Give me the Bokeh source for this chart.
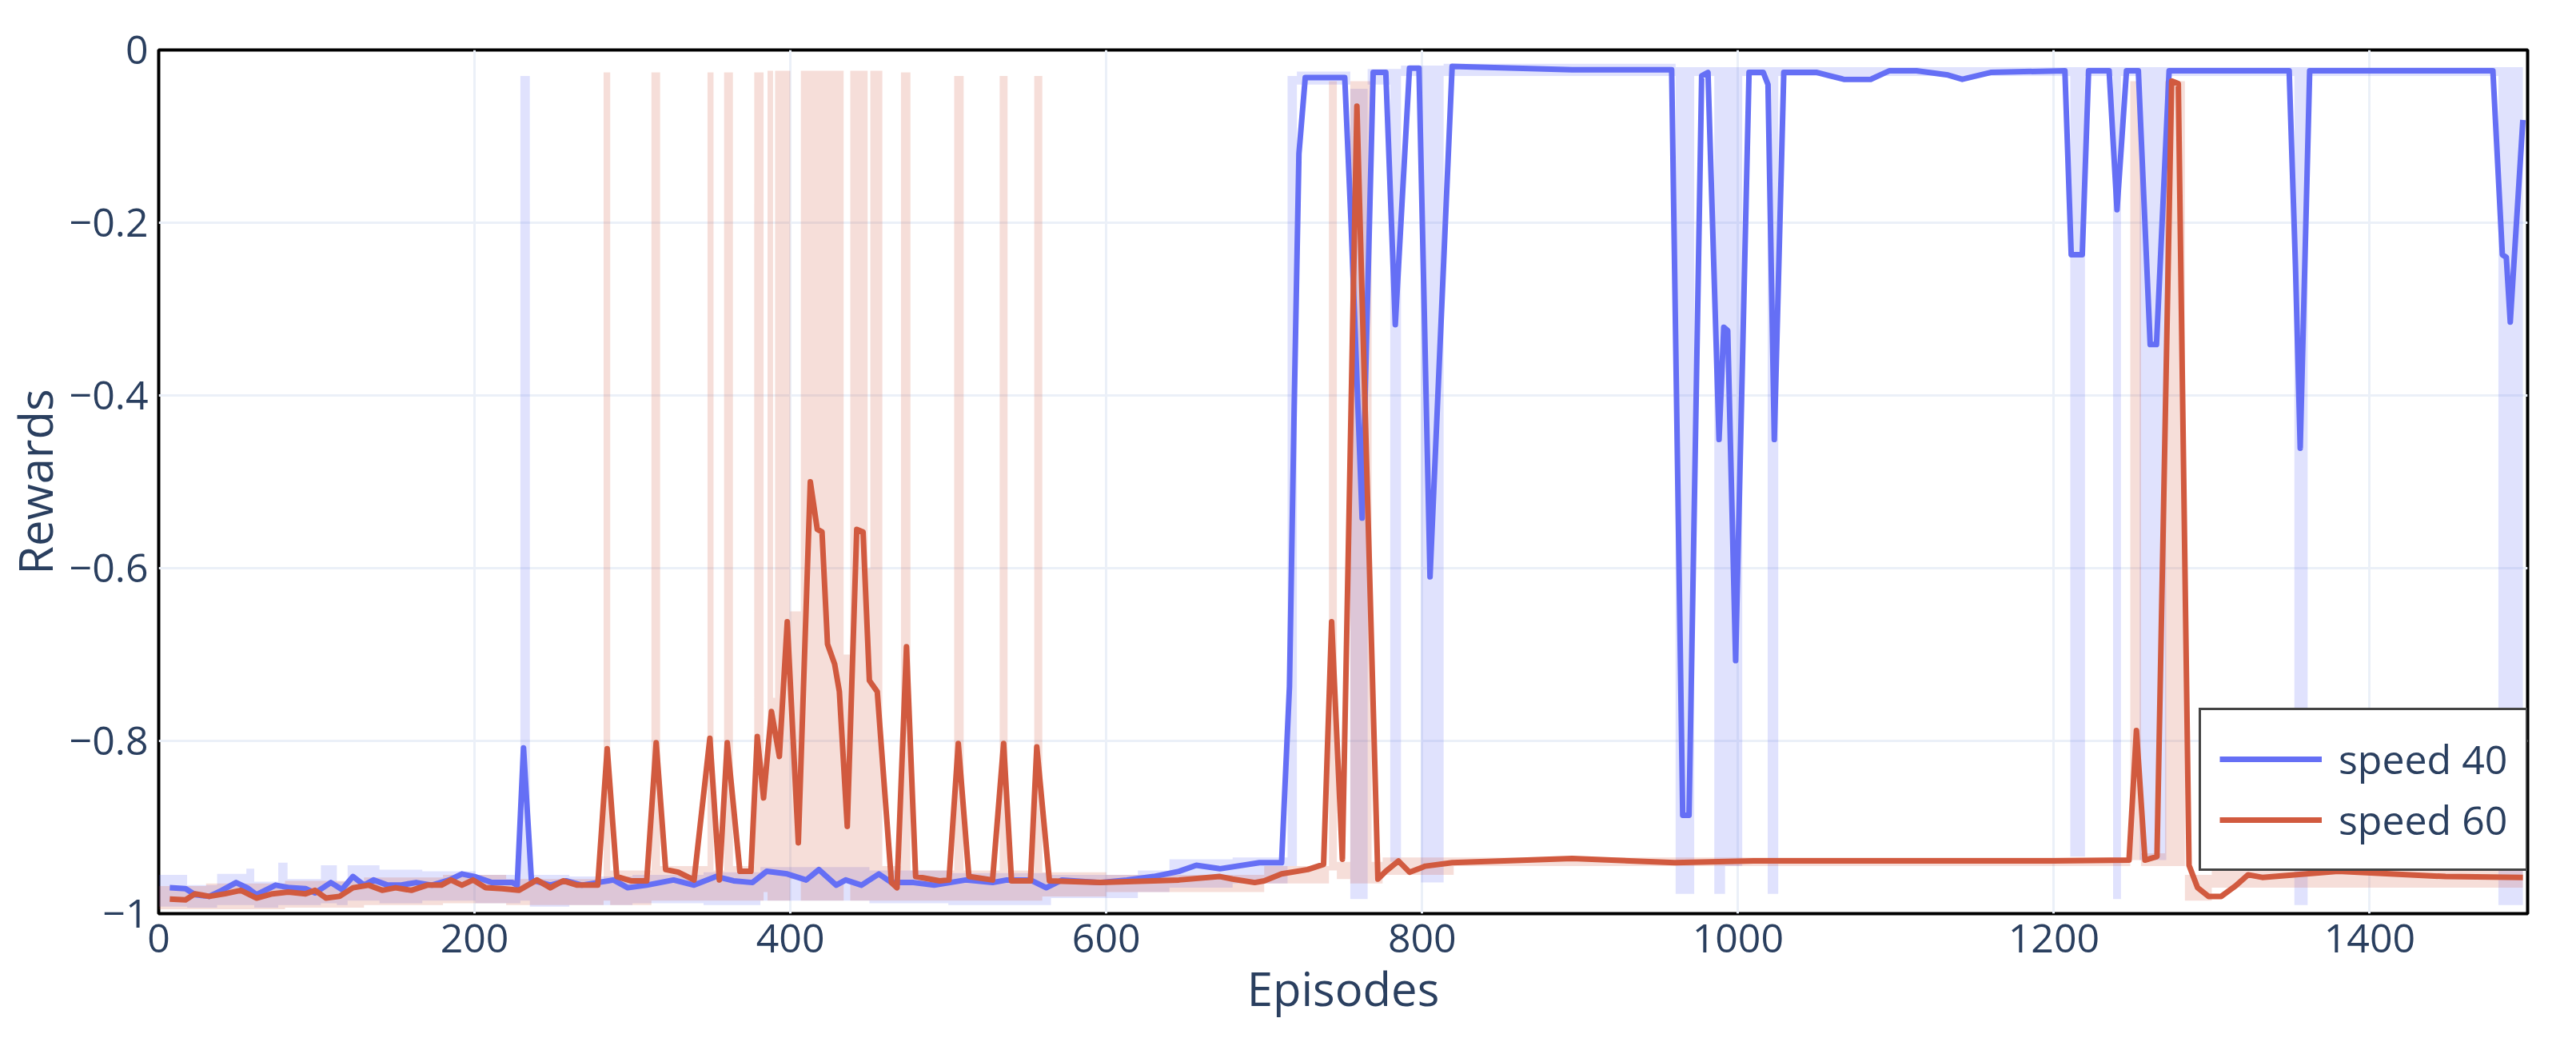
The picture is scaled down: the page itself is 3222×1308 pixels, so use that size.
from bokeh.plotting import figure
from bokeh.models import (Range1d, FixedTicker, CustomJSTickFormatter, Legend,
                          LegendItem, ColumnDataSource)
from bokeh.embed import file_html
from bokeh.resources import INLINE

# ---------------- data ----------------
x_ticks = [0, 200, 400, 600, 800, 1000, 1200, 1400]
y_ticks = [-1, -0.8, -0.6, -0.4, -0.2, 0]

speed40_ep = [7, 17, 23, 32, 40, 49, 56, 62, 74, 83, 93, 99, 109, 116, 123, 130, 136, 145, 153, 163,
              173, 184, 192, 200, 211, 224, 227, 231, 236, 248, 258, 268, 278, 288, 297, 309, 326, 339,
              353, 364, 376, 385, 398, 410, 418, 429, 435, 445, 456, 464, 478, 491, 511, 528, 537, 552,
              562, 572, 596, 613, 630, 646, 657, 672, 697, 711, 716, 719, 722, 726, 751, 755, 762, 769,
              777, 783, 792, 798, 805, 819, 895, 958, 965, 969, 977, 981, 988, 991, 993.5, 998.5, 1007,
              1016, 1019, 1023, 1029, 1050, 1067, 1084, 1096, 1113, 1133, 1142, 1160, 1207, 1211, 1218,
              1222, 1235, 1240, 1246, 1253.5, 1261, 1265, 1273, 1349, 1353, 1356, 1362, 1478, 1484,
              1486.5, 1489, 1497]
speed40_reward = [-0.970, -0.971, -0.978, -0.980, -0.973, -0.964, -0.970, -0.978, -0.967, -0.970,
                  -0.971, -0.976, -0.964, -0.972, -0.957, -0.967, -0.961, -0.967, -0.967, -0.964,
                  -0.967, -0.961, -0.954, -0.957, -0.964, -0.964, -0.967, -0.808, -0.961, -0.967,
                  -0.962, -0.967, -0.964, -0.961, -0.970, -0.967, -0.961, -0.967, -0.957, -0.962,
                  -0.964, -0.951, -0.954, -0.961, -0.949, -0.967, -0.961, -0.967, -0.954, -0.964,
                  -0.964, -0.967, -0.961, -0.964, -0.961, -0.961, -0.970, -0.961, -0.964, -0.961,
                  -0.957, -0.951, -0.944, -0.948, -0.941, -0.941, -0.737, -0.412, -0.120, -0.032,
                  -0.032, -0.200, -0.542, -0.026, -0.026, -0.318, -0.021, -0.021, -0.610, -0.019,
                  -0.023, -0.023, -0.886, -0.886, -0.030, -0.026, -0.451, -0.321, -0.325, -0.707,
                  -0.026, -0.026, -0.040, -0.451, -0.026, -0.026, -0.034, -0.034, -0.024, -0.024,
                  -0.029, -0.034, -0.026, -0.024, -0.237, -0.237, -0.024, -0.024, -0.185, -0.024,
                  -0.024, -0.341, -0.341, -0.024, -0.024, -0.250, -0.461, -0.024, -0.024, -0.237,
                  -0.240, -0.315, -0.081]

speed60_ep = [7, 17, 23, 32, 42, 52, 62, 72, 82, 93, 99, 106, 114.5, 123, 133, 141.5, 150, 160, 170,
              179, 185, 192, 199, 207, 217.5, 228, 239.5, 248, 256, 265, 278, 284, 290, 299, 309, 315,
              321, 329, 339, 349, 355, 360, 368, 375, 379, 383, 388, 393, 398, 405, 412.6, 417, 420,
              423.5, 428, 431, 436, 442, 446, 450, 455, 464, 467.5, 473.5, 479.3, 494.5, 500.4, 506.3,
              513, 528, 535, 540, 552, 556, 564, 596, 630, 646, 672, 680, 694, 700, 711, 727.5, 737.6,
              742.7, 749.5, 758.7, 772, 777, 785, 792, 802, 819, 852, 895, 960, 1010, 1100, 1200,
              1247.6, 1252.3, 1257.7, 1265.3, 1274.6, 1278.8, 1285.6, 1291, 1298, 1306, 1315, 1323,
              1332, 1380, 1448, 1497]
speed60_reward = [-0.983, -0.984, -0.977, -0.980, -0.977, -0.973, -0.982, -0.977, -0.975, -0.977,
                  -0.973, -0.982, -0.980, -0.970, -0.967, -0.973, -0.970, -0.973, -0.967, -0.967,
                  -0.961, -0.967, -0.961, -0.970, -0.971, -0.973, -0.961, -0.970, -0.962, -0.967,
                  -0.967, -0.809, -0.957, -0.962, -0.962, -0.802, -0.949, -0.952, -0.961, -0.797,
                  -0.961, -0.802, -0.951, -0.951, -0.795, -0.866, -0.766, -0.818, -0.662, -0.918,
                  -0.500, -0.555, -0.558, -0.688, -0.711, -0.743, -0.899, -0.555, -0.558, -0.730,
                  -0.743, -0.964, -0.970, -0.691, -0.957, -0.962, -0.961, -0.803, -0.957, -0.961,
                  -0.803, -0.962, -0.962, -0.807, -0.962, -0.964, -0.962, -0.961, -0.957, -0.960,
                  -0.964, -0.962, -0.954, -0.949, -0.943, -0.662, -0.937, -0.065, -0.960, -0.951,
                  -0.939, -0.952, -0.945, -0.941, -0.939, -0.936, -0.941, -0.939, -0.939, -0.939,
                  -0.938, -0.788, -0.938, -0.934, -0.036, -0.039, -0.944, -0.970, -0.980, -0.980,
                  -0.968, -0.955, -0.958, -0.951, -0.957, -0.958]

# spread band (lower / upper envelope), step values starting at each episode
speed40_band_ep = [0, 18, 37, 55.5, 60.5, 75.7, 81.6, 102.7, 112.8, 119.6, 139.8, 166.9, 200.6, 229,
                   235, 260, 300, 345, 381, 450, 500, 565, 620, 640, 680, 714.8, 720.7, 754.5, 765.5,
                   779.8, 786.6, 799.3, 813.6, 960.5, 972.3, 985, 991.8, 1002.7, 1018.8, 1025.5,
                   1210.4, 1219.7, 1237.5, 1242.5, 1254.3, 1271.2, 1352.3, 1360.7, 1481.5]
speed40_band_lo = [-0.992, -0.993, -0.990, -0.990, -0.993, -0.990, -0.990, -0.988, -0.990, -0.985,
                   -0.988, -0.985, -0.988, -0.985, -0.992, -0.990, -0.988, -0.990, -0.985, -0.988,
                   -0.990, -0.982, -0.975, -0.970, -0.965, -0.945, -0.040, -0.983, -0.040, -0.940,
                   -0.030, -0.964, -0.030, -0.977, -0.030, -0.977, -0.945, -0.030, -0.977, -0.030,
                   -0.934, -0.030, -0.983, -0.030, -0.938, -0.030, -0.990, -0.030, -0.990]
speed40_band_hi = [-0.955, -0.967, -0.954, -0.948, -0.963, -0.941, -0.960, -0.944, -0.963, -0.944,
                   -0.949, -0.951, -0.955, -0.030, -0.955, -0.957, -0.955, -0.952, -0.946, -0.950,
                   -0.953, -0.955, -0.950, -0.937, -0.935, -0.030, -0.025, -0.045, -0.022, -0.022,
                   -0.018, -0.018, -0.016, -0.020, -0.020, -0.020, -0.020, -0.020, -0.020, -0.020,
                   -0.020, -0.020, -0.020, -0.020, -0.020, -0.020, -0.020, -0.020, -0.020]

speed60_band_ep = [0, 30, 80, 130, 180, 220, 281.7, 285.9, 312, 317.5, 347.5, 351.3, 358, 363.6,
                   377.1, 383, 385.5, 389, 390.3, 399.9, 406.6, 433.7, 437.9, 448.9, 450.6, 458.2,
                   470, 476, 503.7, 509.7, 532.5, 537.5, 554.4, 559.5, 600, 700, 741, 746, 754.5,
                   768, 775, 820, 1248.4, 1255.2, 1270.4, 1283, 1300]
speed60_band_lo = [-0.995, -0.995, -0.993, -0.990, -0.988, -0.990, -0.985, -0.990, -0.985, -0.985,
                   -0.985, -0.985, -0.985, -0.985, -0.985, -0.975, -0.985, -0.985, -0.985, -0.960,
                   -0.985, -0.960, -0.985, -0.985, -0.985, -0.985, -0.985, -0.985, -0.985, -0.985,
                   -0.985, -0.985, -0.985, -0.980, -0.975, -0.965, -0.950, -0.960, -0.965, -0.965,
                   -0.955, -0.945, -0.938, -0.945, -0.945, -0.985, -0.970]
speed60_band_hi = [-0.968, -0.965, -0.962, -0.958, -0.955, -0.960, -0.026, -0.950, -0.026, -0.945,
                   -0.026, -0.950, -0.026, -0.945, -0.026, -0.850, -0.024, -0.750, -0.024, -0.650,
                   -0.024, -0.700, -0.024, -0.600, -0.024, -0.945, -0.026, -0.950, -0.030, -0.950,
                   -0.030, -0.950, -0.030, -0.952, -0.955, -0.945, -0.036, -0.940, -0.036, -0.940,
                   -0.935, -0.935, -0.036, -0.930, -0.036, -0.955, -0.945]
band_end = 1497

BLUE = "#656ff5"
RED = "#d15a3f"
TEXT = "#2a3f5f"
FONT = "Open Sans"


def step_band(eps, lo, hi, end):
    assert len(eps) == len(lo) == len(hi)
    edges = list(eps) + [end]
    xs, y1, y2 = [], [], []
    for i in range(len(eps)):
        xs += [edges[i], edges[i + 1]]
        y1 += [lo[i], lo[i]]
        y2 += [hi[i], hi[i]]
    return dict(x=xs, y1=y1, y2=y2)


assert len(speed40_ep) == len(speed40_reward)
assert len(speed60_ep) == len(speed60_reward)

p = figure(frame_width=2963, frame_height=1080,
           x_range=Range1d(0, 1500), y_range=Range1d(-1, 0),
           output_backend="svg", toolbar_location=None,
           min_border_left=191, min_border_top=62, min_border_right=50, min_border_bottom=140,
           background_fill_color="white", border_fill_color="white")

band40 = ColumnDataSource(step_band(speed40_band_ep, speed40_band_lo, speed40_band_hi, band_end))
band60 = ColumnDataSource(step_band(speed60_band_ep, speed60_band_lo, speed60_band_hi, band_end))
p.varea(x="x", y1="y1", y2="y2", source=band40, fill_color=BLUE, fill_alpha=0.2)
p.varea(x="x", y1="y1", y2="y2", source=band60, fill_color=RED, fill_alpha=0.2)

l40 = p.line(speed40_ep, speed40_reward, line_color=BLUE, line_width=7, line_join="round")
l60 = p.line(speed60_ep, speed60_reward, line_color=RED, line_width=7, line_join="round")

# axes
p.xaxis.ticker = FixedTicker(ticks=x_ticks, minor_ticks=[])
p.yaxis.ticker = FixedTicker(ticks=y_ticks, minor_ticks=[])
p.xgrid.ticker = FixedTicker(ticks=x_ticks, minor_ticks=[])
p.ygrid.ticker = FixedTicker(ticks=y_ticks, minor_ticks=[])
p.yaxis.formatter = CustomJSTickFormatter(
    code="return tick < 0 ? '\\u2212' + Math.abs(tick) : String(tick);")
for ax in (p.xaxis[0], p.yaxis[0]):
    ax.axis_line_color = None
    ax.major_tick_line_color = None
    ax.minor_tick_line_color = None
    ax.major_tick_out = 0
    ax.major_tick_in = 0
    ax.major_label_text_font = FONT
    ax.major_label_text_font_size = "50px"
    ax.major_label_text_color = TEXT
    ax.axis_label_text_font = FONT
    ax.axis_label_text_font_size = "58px"
    ax.axis_label_text_font_style = "normal"
    ax.axis_label_text_color = TEXT
p.xaxis.axis_label = "Episodes"
p.yaxis.axis_label = "Rewards"
p.xaxis.major_label_standoff = 13
p.xaxis.axis_label_standoff = 2
p.yaxis.major_label_standoff = 13
p.yaxis.axis_label_standoff = 1

p.grid.grid_line_color = "#ebf0f8"
p.grid.grid_line_width = 3

p.outline_line_color = "black"
p.outline_line_width = 4
p.outline_line_alpha = 1

legend = Legend(items=[LegendItem(label="speed 40", renderers=[l40]),
                       LegendItem(label="speed 60", renderers=[l60])],
                location=(2552, 53),
                label_text_font=FONT, label_text_font_size="50px", label_text_color=TEXT,
                glyph_width=128, glyph_height=76, label_height=76, label_standoff=21,
                padding=23, spacing=0, margin=0,
                border_line_color="#444444", border_line_width=3, border_line_alpha=1,
                background_fill_color="white", background_fill_alpha=1)
p.add_layout(legend)

open("out.html", "w").write(file_html(p, INLINE))
